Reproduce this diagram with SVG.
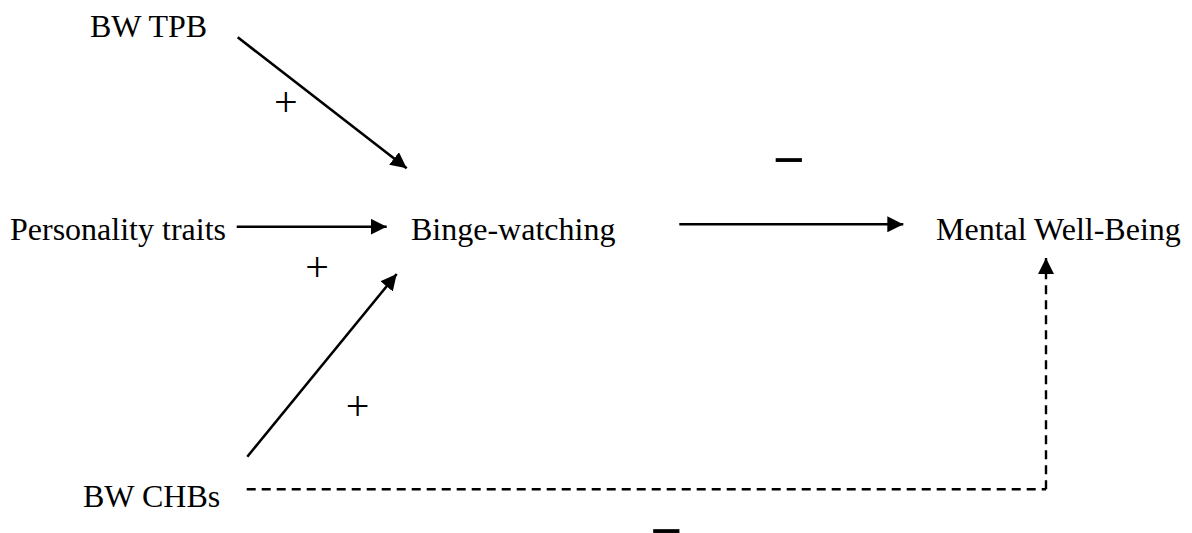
<svg xmlns="http://www.w3.org/2000/svg" width="1192" height="533" viewBox="0 0 1192 533">
  <style>
    .lbl { font-family: "Liberation Serif", "Times New Roman", serif; font-size: 32px; fill: #000; }
    .plus { font-family: "Liberation Serif", "Times New Roman", serif; font-size: 42px; fill: #000; text-anchor: middle; }
    .minus { font-family: "Liberation Sans", Arial, sans-serif; font-size: 54px; fill: #000; text-anchor: middle; }
    .edge { fill: none; stroke: #000; stroke-width: 2.6; }
    .dash { fill: none; stroke: #000; stroke-width: 2.4; stroke-dasharray: 9 6; }
  </style>
  <defs>
    <marker id="arr" markerUnits="userSpaceOnUse" markerWidth="16" markerHeight="16" refX="16" refY="8" orient="auto">
      <path d="M0,0 L16,8 L0,16 Z" fill="#000"/>
    </marker>
  </defs>
  <rect width="1192" height="533" fill="#fff"/>

  <g id="connectors">
    <path class="edge" d="M237.7,37.3 L406.7,168.3" marker-end="url(#arr)"/>
    <path class="edge" d="M236.7,226.7 L386.7,226.7" marker-end="url(#arr)"/>
    <path class="edge" d="M247.3,456.7 L396.7,274" marker-end="url(#arr)"/>
    <path class="edge" d="M679.3,224.3 L903.3,224.3" marker-end="url(#arr)"/>
    <path class="dash" d="M246.7,489.3 H1046"/>
    <path class="dash" d="M1046,489.3 V258" stroke-width="3" stroke-dasharray="12 6" marker-end="url(#arr)"/>
    <text class="plus" x="285.8" y="116">+</text>
    <text class="plus" x="317" y="281">+</text>
    <text class="plus" x="357.7" y="419.6">+</text>
    <text class="minus" x="788.7" y="177.7">−</text>
    <text class="minus" x="666.3" y="548.5">−</text>
  </g>

  <g id="bw-tpb"><text class="lbl" x="90" y="37">BW TPB</text></g>
  <g id="personality-traits"><text class="lbl" x="10" y="240">Personality traits</text></g>
  <g id="binge-watching"><text class="lbl" x="411" y="240">Binge-watching</text></g>
  <g id="mental-well-being"><text class="lbl" x="936" y="240">Mental Well-Being</text></g>
  <g id="bw-chbs"><text class="lbl" x="83" y="507">BW CHBs</text></g>
</svg>
